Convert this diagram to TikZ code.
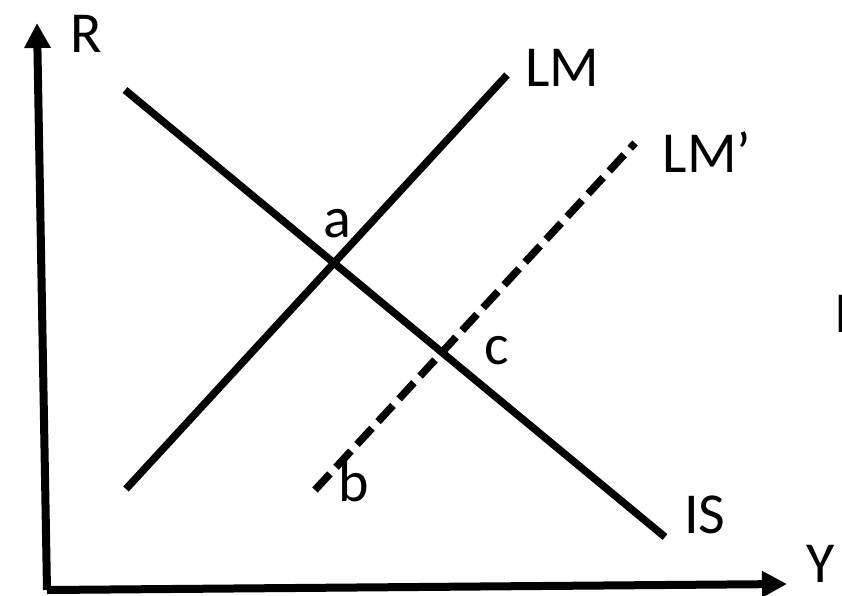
\documentclass[tikz,border=0pt]{standalone}
\usepackage{fontspec}
\setmainfont{Carlito}
\usepackage{tikz}
\usetikzlibrary{arrows.meta}
\pgfdeclarelayer{edgelayer}
\pgfdeclarelayer{nodelayer}
\pgfsetlayers{edgelayer,nodelayer,main}
\tikzstyle{edge}=[draw=black, line width=7.5pt]
\tikzstyle{axis}=[draw=black, line width=8pt, -{Triangle[length=25pt,width=25pt]}]
\tikzstyle{shifted}=[edge, dash pattern=on 22pt off 9pt]
\tikzstyle{label}=[inner sep=0pt, font=\fontsize{58}{60}\selectfont]

\begin{document}
\begin{tikzpicture}[x=1pt, y=-1pt]
				\useasboundingbox (0, 0) rectangle (842, 595);
				\begin{pgfonlayer}{nodelayer}
					\coordinate (o) at (47, 590);
					\coordinate (r) at (37, 23);
					\coordinate (y) at (787, 584);
					\coordinate (lm0) at (126, 489);
					\coordinate (lm1) at (507, 75);
					\coordinate (lmp0) at (315, 490);
					\coordinate (lmp1) at (635, 143);
					\coordinate (is0) at (125, 90);
					\coordinate (is1) at (665, 537);
					\node [style=label] (R) at (86, 34) {R};
					\node [style=label] (Y) at (821, 564) {Y};
					\node [style=label] (LM) at (562, 68) {LM};
					\node [style=label] (LMp) at (707, 152) {LM’};
					\node [style=label] (IS) at (705, 515) {IS};
					\node [style=label] (a) at (337, 224) {a};
					\node [style=label] (b) at (354, 482) {b};
					\node [style=label] (c) at (497, 351) {c};
					\node [style=label, anchor=base west] (I) at (834, 332) {I};
				\end{pgfonlayer}
				\begin{pgfonlayer}{edgelayer}
					\draw [style=axis] (o) to (r);
					\draw [style=axis] (o) to (y);
					\draw [style=edge] (lm0) to (lm1);
					\draw [style=shifted] (lmp0) to (lmp1);
					\draw [style=edge] (is0) to (is1);
				\end{pgfonlayer}
			\end{tikzpicture}
\end{document}
